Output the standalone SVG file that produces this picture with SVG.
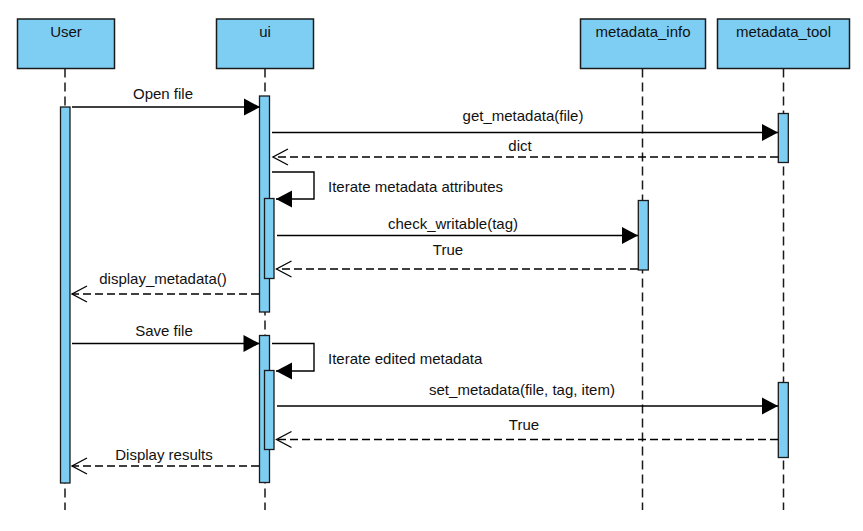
<svg xmlns="http://www.w3.org/2000/svg" width="863" height="531" viewBox="0 0 863 531">
<style>
.head{fill:#7ecef4;stroke:#1a1a1a;stroke-width:1.5}
.life{stroke:#1a1a1a;stroke-width:1.5;stroke-dasharray:9 5;fill:none}
.act{fill:#7ecef4;stroke:#1a1a1a;stroke-width:1.3}
.msg{stroke:#000;stroke-width:1.4;fill:none}
.ret{stroke:#000;stroke-width:1.4;fill:none;stroke-dasharray:8 4}
text{font-family:"Liberation Sans",Arial,sans-serif;font-size:15px;fill:#111}
.c{text-anchor:middle}
</style>
<defs>
<marker id="fa" markerUnits="userSpaceOnUse" markerWidth="18" markerHeight="19" refX="16" refY="8.5" orient="auto" overflow="visible">
<path d="M0,0 L16,8.5 L0,17 z" fill="#000"/>
</marker>
<marker id="oa" markerUnits="userSpaceOnUse" markerWidth="18" markerHeight="19" refX="15" refY="8" orient="auto" overflow="visible">
<path d="M0,0 L15,8 L0,16" fill="none" stroke="#000" stroke-width="1.3"/>
</marker>
</defs>

<g id="User">
<line class="life" x1="65" y1="68.5" x2="65" y2="510"/>
<rect class="head" x="17.5" y="19" width="97" height="49.5"/>
<text class="c" x="66" y="37">User</text>
</g>
<g id="ui">
<line class="life" x1="265" y1="68.5" x2="265" y2="510"/>
<rect class="head" x="216.5" y="19" width="97" height="49.5"/>
<text class="c" x="265" y="37">ui</text>
</g>
<g id="metadata_info">
<line class="life" x1="642.5" y1="68.5" x2="642.5" y2="510"/>
<rect class="head" x="580.5" y="19" width="125" height="49.5"/>
<text class="c" x="643" y="37">metadata_info</text>
</g>
<g id="metadata_tool">
<line class="life" x1="783.5" y1="68.5" x2="783.5" y2="510"/>
<rect class="head" x="717.5" y="19" width="132" height="49.5"/>
<text class="c" x="783.5" y="37">metadata_tool</text>
</g>

<g id="activations">
<rect class="act" x="60.5" y="107" width="9.5" height="376"/>
<rect class="act" x="259.5" y="96" width="10" height="216"/>
<rect class="act" x="264.5" y="198.5" width="9.5" height="80"/>
<rect class="act" x="259.5" y="335.5" width="10" height="147"/>
<rect class="act" x="264.5" y="370.5" width="9.5" height="79"/>
<rect class="act" x="638.3" y="200.5" width="10" height="69.5"/>
<rect class="act" x="778.3" y="113.5" width="10" height="49"/>
<rect class="act" x="778.3" y="382.5" width="10" height="75"/>
</g>

<g id="connectors">
<line class="msg" x1="72" y1="107" x2="260" y2="107" marker-end="url(#fa)"/>
<text class="c" x="163" y="99">Open file</text>

<line class="msg" x1="272" y1="132.5" x2="778" y2="132.5" marker-end="url(#fa)"/>
<text class="c" x="523" y="121">get_metadata(file)</text>

<line class="ret" x1="778" y1="157" x2="273" y2="157" marker-end="url(#oa)"/>
<text class="c" x="520" y="150.5">dict</text>

<path class="msg" d="M272,172 H314 V199 H276" marker-end="url(#fa)"/>
<text x="328" y="191.5">Iterate metadata attributes</text>

<line class="msg" x1="277" y1="235.5" x2="638" y2="235.5" marker-end="url(#fa)"/>
<text class="c" x="453" y="228.5">check_writable(tag)</text>

<line class="ret" x1="638" y1="269" x2="276.5" y2="269" marker-end="url(#oa)"/>
<text class="c" x="448" y="255">True</text>

<line class="ret" x1="259" y1="294" x2="72" y2="294" marker-end="url(#oa)"/>
<text class="c" x="163" y="283.5">display_metadata()</text>

<line class="msg" x1="72" y1="343.5" x2="259.5" y2="343.5" marker-end="url(#fa)"/>
<text class="c" x="164" y="336">Save file</text>

<path class="msg" d="M272,343.5 H314 V371 H276" marker-end="url(#fa)"/>
<text x="328" y="364">Iterate edited metadata</text>

<line class="msg" x1="277" y1="406" x2="778" y2="406" marker-end="url(#fa)"/>
<text class="c" x="522" y="395">set_metadata(file, tag, item)</text>

<line class="ret" x1="778" y1="439.5" x2="276.5" y2="439.5" marker-end="url(#oa)"/>
<text class="c" x="524" y="430">True</text>

<line class="ret" x1="259" y1="466" x2="72" y2="466" marker-end="url(#oa)"/>
<text class="c" x="164" y="459.5">Display results</text>
</g>
</svg>
